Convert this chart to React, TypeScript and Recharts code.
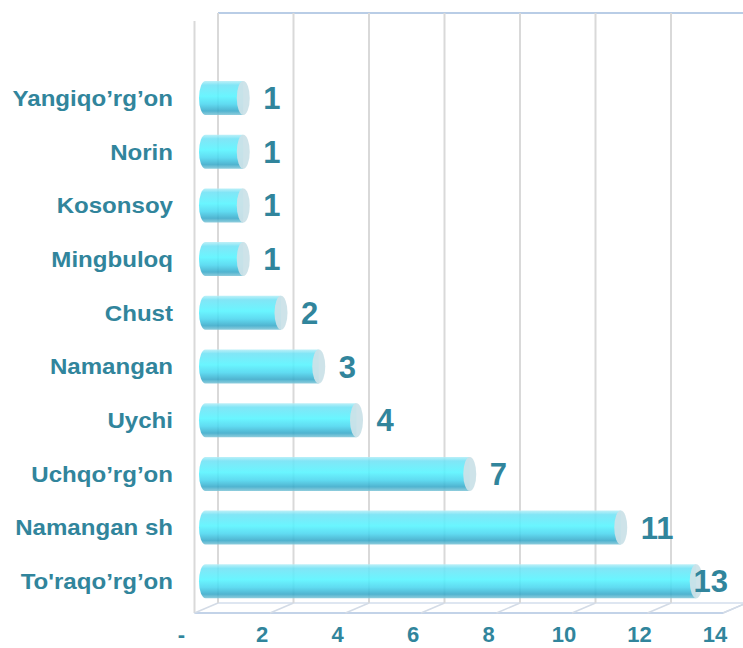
import React from 'react';
import { BarChart, Bar, XAxis, YAxis, CartesianGrid, LabelList } from 'recharts';

const categories = [
  'Yangiqo’rg’on',
  'Norin',
  'Kosonsoy',
  'Mingbuloq',
  'Chust',
  'Namangan',
  'Uychi',
  'Uchqo’rg’on',
  'Namangan sh',
  "To'raqo’rg’on",
];
const counts = [1, 1, 1, 1, 2, 3, 4, 7, 11, 13];
const xTicks = [0, 2, 4, 6, 8, 10, 12, 14];

const data = categories.map((name, i) => ({ name, value: counts[i] }));

const FONT = '"Liberation Sans", Arial, Helvetica, sans-serif';
const TEAL = '#31859C';
const BACK_DX = 12.5;
const FRONT_DX = -11;
const TOP_Y = 13;
const BACK_Y = 603;
const FRONT_Y = 613;
const WALL_TOP = 21;
const PLOT_W = 528.5;

const gridLine = (props: any) => {
  const x = Number(props.x1);
  const bx = x + BACK_DX;
  const fx = x + FRONT_DX;
  const first = x < 210;
  return (
    <g key={`g-${x}`}>
      {first && (
        <g>
          <line x1={fx} y1={WALL_TOP} x2={fx} y2={FRONT_Y} stroke="#d9d9d9" strokeWidth={2} />
          <line x1={bx} y1={BACK_Y} x2={743} y2={BACK_Y} stroke="#d3deec" strokeWidth={1.5} />
          <line x1={fx} y1={FRONT_Y} x2={fx + PLOT_W} y2={FRONT_Y} stroke="#c3d3e8" strokeWidth={2} />
          <line x1={fx + PLOT_W} y1={FRONT_Y} x2={bx + PLOT_W} y2={BACK_Y} stroke="#c3d3e8" strokeWidth={1.5} />
          <line x1={bx} y1={TOP_Y} x2={743} y2={TOP_Y} stroke="#b9cde6" strokeWidth={2} />
        </g>
      )}
      <line x1={bx} y1={TOP_Y} x2={bx} y2={BACK_Y} stroke="#d9d9d9" strokeWidth={2} />
      <line x1={bx} y1={BACK_Y} x2={fx} y2={FRONT_Y} stroke="#d3dbe6" strokeWidth={1.5} />
    </g>
  );
};

const Cylinder = (props: any) => {
  const { x, y, width, height, index } = props;
  const rx = 6.5;
  const ry = height / 2;
  const end = x + width;
  const id = `cylGrad${index}`;
  return (
    <g>
      <defs>
        <linearGradient id={id} x1="0" y1="0" x2="0" y2="1">
          <stop offset="0%" stopColor="#b4eef7" />
          <stop offset="12%" stopColor="#70e2f5" />
          <stop offset="45%" stopColor="#55f4ff" />
          <stop offset="68%" stopColor="#4ad6ef" />
          <stop offset="88%" stopColor="#38a9c9" />
          <stop offset="100%" stopColor="#80c6d8" />
        </linearGradient>
      </defs>
      <path
        d={`M${end},${y} L${x},${y} A${rx},${ry} 0 0 0 ${x},${y + height} L${end},${y + height} Z`}
        fill={`url(#${id})`}
        fillOpacity={0.88}
      />
      <ellipse cx={end} cy={y + ry} rx={rx} ry={ry} fill="#cbe2e8" fillOpacity={0.95} />
    </g>
  );
};

const ValueLabel = (props: any) => {
  const { x, y, width, height, value } = props;
  const end = Number(x) + Number(width);
  const w = String(value).length * 17.2;
  let tx = end + 20;
  let anchor: 'start' | 'end' = 'start';
  if (tx + w > 728) {
    tx = 728;
    anchor = 'end';
  }
  return (
    <text
      x={tx}
      y={Number(y) + Number(height) / 2 + 11}
      textAnchor={anchor}
      fontFamily={FONT}
      fontWeight="bold"
      fontSize={31}
      fill={TEAL}
    >
      {value}
    </text>
  );
};

const CatTick = (props: any) => {
  const { y, payload } = props;
  return (
    <text
      transform={`translate(173, ${Number(y) + 8}) scale(1.07, 1)`}
      textAnchor="end"
      fontFamily={FONT}
      fontWeight="bold"
      fontSize={22.5}
      fill={TEAL}
    >
      {payload.value}
    </text>
  );
};

const NumTick = (props: any) => {
  const { x, payload } = props;
  const v = Number(payload.value);
  return (
    <text
      x={Number(x) - 19 + (v === 0 ? -5 : 0)}
      y={642}
      textAnchor="middle"
      fontFamily={FONT}
      fontWeight="bold"
      fontSize={22}
      fill={TEAL}
    >
      {v === 0 ? '-' : v}
    </text>
  );
};

export default function App() {
  return (
    <div style={{ position: 'absolute', left: 0, top: 0, width: 743, height: 648, background: '#fff', overflow: 'hidden' }}>
      <BarChart
        width={743}
        height={648}
        data={data}
        layout="vertical"
        margin={{ top: 71, right: 9, bottom: 0, left: 0 }}
      >
        <CartesianGrid horizontal={false} vertical={gridLine} />
        <XAxis
          type="number"
          domain={[0, 14]}
          ticks={xTicks}
          interval={0}
          height={40}
          axisLine={false}
          tickLine={false}
          tick={<NumTick />}
        />
        <YAxis
          type="category"
          dataKey="name"
          width={205.5}
          axisLine={false}
          tickLine={false}
          interval={0}
          tick={<CatTick />}
        />
        <Bar dataKey="value" barSize={34} isAnimationActive={false} shape={<Cylinder />}>
          <LabelList dataKey="value" content={<ValueLabel />} />
        </Bar>
      </BarChart>
    </div>
  );
}
